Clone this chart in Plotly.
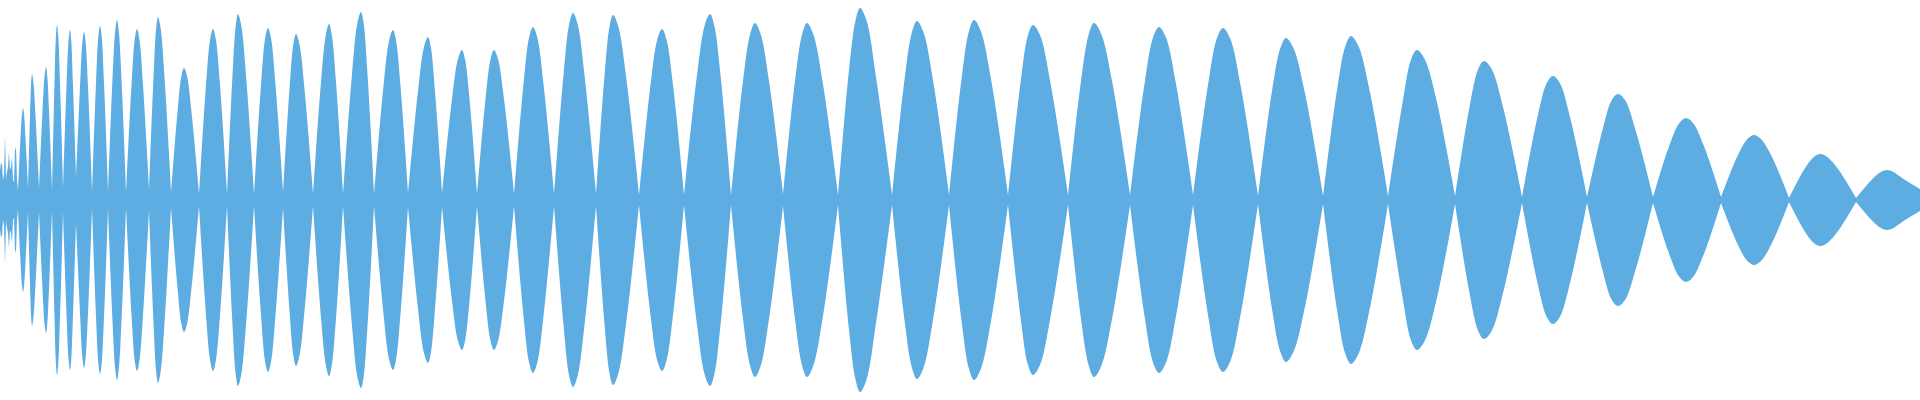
import plotly.graph_objects as go

# ---- data (amplitude in px-like units, time in samples) ----
lead_x = [0, 1, 2, 3, 4, 5, 6, 7, 8, 9, 10, 11, 12, 13, 14, 15, 16, 17, 18]
lead_amp = [30, 37, 36, 20, 25, 65, 22, 28, 33, 48, 30, 33, 43, 20, 18, 50, 53, 20, 10]

node_x = [18, 28, 39, 52, 63, 76, 92, 108, 126, 149, 171, 199, 227, 254, 283, 313,
          343, 374, 408, 442, 477, 514, 554, 596, 639, 684, 731, 783, 838, 892, 949,
          1008, 1068, 1130, 1193, 1258, 1323, 1388, 1455, 1522, 1587, 1653, 1721,
          1789, 1856, 1920]
node_amp = [10, 12, 12, 10, 12, 23, 8, 9, 8, 11, 8, 6, 6, 6, 8, 6,
            6, 6, 7, 7, 6, 6, 6, 6, 5, 5, 5, 6, 5, 5, 5,
            5, 5, 5, 5, 4, 4, 4, 4, 3, 3, 3, 3,
            2, 2, 11]

peak_x = [23, 32, 46, 57, 70, 84, 100, 117, 137, 158, 184, 213, 238, 268, 296, 329,
          361, 393, 428, 462, 494, 533, 573, 613, 662, 710, 755, 807, 860, 917, 974,
          1033, 1094, 1159, 1223, 1286, 1351, 1417, 1484, 1553, 1618, 1686, 1754,
          1820, 1887]
peak_amp = [92, 126, 133, 175, 170, 168, 174, 180, 171, 183, 132, 171, 186, 172, 166, 176,
            188, 170, 163, 150, 150, 173, 187, 185, 171, 186, 177, 177, 192, 179, 180,
            175, 177, 173, 172, 162, 164, 150, 139, 124, 106, 82, 65,
            46, 30]

# envelope half-way up the rising / falling side of each lobe
rise_x = [20.5, 30, 42.5, 54.5, 66.5, 80, 96, 112.5, 131.5, 153.5, 177.5, 206, 232.5, 261,
          289.5, 321, 352, 383.5, 418, 452, 485.5, 523.5, 563.5, 604.5, 650.5, 697, 743,
          795, 849, 904.5, 961.5, 1020.5, 1081, 1144.5, 1208, 1272, 1337, 1402.5, 1469.5,
          1537.5, 1602.5, 1669.5, 1737.5, 1804.5, 1871.5]
rise_amp = [62, 84, 89, 117, 114, 113, 117, 121, 115, 123, 88, 115, 125, 115, 111, 118,
            126, 114, 109, 101, 101, 116, 125, 124, 115, 125, 119, 119, 130, 120, 121,
            117, 119, 116, 115, 109, 110, 97, 93, 83, 70, 55, 44,
            31, 20]

fall_x = [25.5, 35.5, 49, 60, 73, 88, 104, 121.5, 143, 164.5, 191.5, 220, 246, 275.5,
          304.5, 336, 367.5, 400.5, 435, 469.5, 504, 543.5, 584.5, 626, 673, 720.5, 769,
          822.5, 876, 933, 991, 1050.5, 1112, 1176, 1240.5, 1304.5, 1369.5, 1436, 1503,
          1570, 1635.5, 1703.5, 1771.5, 1838, 1903.5]
fall_amp = [62, 84, 89, 117, 114, 113, 117, 121, 115, 123, 88, 115, 125, 115, 111, 118,
            126, 114, 109, 101, 101, 116, 125, 124, 115, 125, 119, 119, 123, 120, 121,
            117, 119, 116, 115, 109, 110, 102, 93, 83, 70, 55, 44,
            31, 21]

# envelope near the crest on both sides of each lobe
crest_l_x = [22, 31.2, 44.6, 56, 68.6, 82.4, 98.4, 115.2, 134.8, 156.2, 181.4, 210.2,
             235.8, 265.2, 293.4, 325.8, 357.4, 389.2, 424, 458, 490.6, 529.2, 569.2,
             609.6, 657.4, 704.8, 750.2, 802.2, 855.6, 912, 969, 1028, 1088.8, 1153.2,
             1217, 1280.4, 1345.4, 1411.2, 1478.2, 1546.8, 1611.8, 1679.4, 1747.4,
             1813.8, 1880.8]
crest_r_x = [24, 33.4, 47.2, 58.2, 71.2, 85.6, 101.6, 118.8, 139.4, 160.6, 187, 215.8,
             241.2, 271, 299.4, 331.8, 363.6, 396, 430.8, 465, 498, 537.2, 577.6, 618.2,
             666.4, 714.2, 760.6, 813.2, 866.4, 923.4, 980.8, 1040, 1101.2, 1165.8, 1230,
             1293.4, 1358.4, 1424.6, 1491.6, 1559.8, 1625, 1693, 1761, 1827.2, 1893.6]
crest_amp = [86, 118, 125, 165, 160, 158, 164, 169, 161, 172, 124, 161, 175, 162, 156, 165,
             177, 160, 153, 141, 141, 163, 176, 174, 161, 175, 166, 166, 180, 168, 169,
             165, 166, 163, 162, 152, 154, 141, 131, 117, 100, 77, 61,
             43, 28]

COLOR = "#5DADE2"

# build lobe outlines (one segment per lobe so every node stays a sharp point)
xs, ys = [], []
for i in range(len(peak_x)):
    xs += [node_x[i], rise_x[i], crest_l_x[i], peak_x[i], crest_r_x[i], fall_x[i],
           node_x[i + 1], None]
    ys += [node_amp[i], rise_amp[i], crest_amp[i], peak_amp[i], crest_amp[i], fall_amp[i],
           node_amp[i + 1], None]

fig = go.Figure()
for sign in (1, -1):
    fig.add_trace(go.Scatter(
        x=lead_x, y=[sign * a for a in lead_amp], mode="lines",
        line=dict(width=0, color=COLOR, shape="linear", simplify=False),
        fill="tozeroy", fillcolor=COLOR, hoverinfo="skip",
    ))
    fig.add_trace(go.Scatter(
        x=xs, y=[None if v is None else sign * v for v in ys], mode="lines",
        line=dict(width=0, color=COLOR, shape="spline", smoothing=1, simplify=False),
        fill="tozeroy", fillcolor=COLOR, connectgaps=False, hoverinfo="skip",
    ))

fig.update_layout(
    width=1920, height=400,
    margin=dict(l=0, r=0, t=0, b=0, pad=0),
    paper_bgcolor="white", plot_bgcolor="white",
    showlegend=False,
    xaxis=dict(visible=False, range=[0, 1920], fixedrange=True),
    yaxis=dict(visible=False, range=[-200, 200], fixedrange=True),
)

fig.write_html("out.html", post_script="document.body.style.margin='0';",
               config={"displayModeBar": False})
